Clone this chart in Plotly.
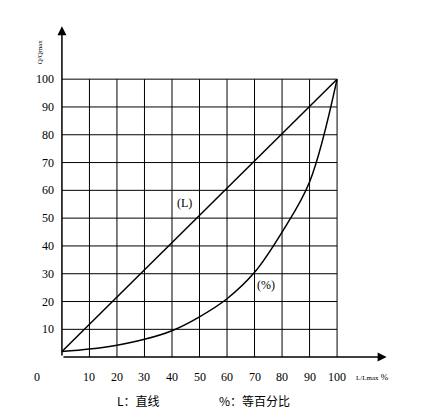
import plotly.graph_objects as go

x_vals = [0, 10, 20, 30, 40, 50, 60, 70, 80, 90, 100]
linear = [2, 11.8, 21.6, 31.4, 41.2, 51, 60.8, 70.6, 80.4, 90.2, 100]
equal_pct = [2, 2.9, 4.3, 6.4, 9.5, 14.5, 21, 30.5, 45, 63, 100]
ticks = [10, 20, 30, 40, 50, 60, 70, 80, 90, 100]

serif = "Liberation Serif"
cjk = "Noto Sans CJK SC"

fig = go.Figure()
fig.add_trace(go.Scatter(x=x_vals, y=linear, mode="lines", line=dict(color="black", width=1.5)))
fig.add_trace(go.Scatter(x=x_vals, y=equal_pct, mode="lines", line=dict(color="black", width=1.5, shape="spline")))

shapes = []
for t in ticks:
    shapes.append(dict(type="line", x0=t, x1=t, y0=0, y1=100, line=dict(color="black", width=1)))
    shapes.append(dict(type="line", x0=0, x1=100, y0=t, y1=t, line=dict(color="black", width=1)))
fig.update_layout(shapes=shapes)

ann = []
for t in ticks:
    ann.append(dict(x=-2, y=t, text=str(t), showarrow=False, xanchor="right",
                    font=dict(family=serif, size=12, color="black")))
    ann.append(dict(x=t, y=-7, text=str(t), showarrow=False,
                    font=dict(family=serif, size=12, color="black")))
ann.append(dict(x=-9, y=-7, text="0", showarrow=False, font=dict(family=serif, size=12, color="black")))
# axes with arrows
ann.append(dict(x=0, y=119, ax=0, ay=0, axref="x", ayref="y", showarrow=True,
                arrowhead=2, arrowsize=1.2, arrowwidth=1.5, arrowcolor="black", text=""))
ann.append(dict(x=118, y=0, ax=0, ay=0, axref="x", ayref="y", showarrow=True,
                arrowhead=2, arrowsize=1.2, arrowwidth=1.5, arrowcolor="black", text=""))
ann.append(dict(x=-8, y=110, text="Q/Qmax", textangle=-90, showarrow=False,
                font=dict(family=serif, size=7, color="black")))
ann.append(dict(x=106, y=-7, text="<span style='font-size:7px'>L/Lmax</span> %", showarrow=False,
                xanchor="left", font=dict(family=serif, size=9, color="black")))
ann.append(dict(x=44.7, y=55.4, text="(L)", showarrow=False, font=dict(family=serif, size=12, color="black")))
ann.append(dict(x=74, y=26, text="(%)", showarrow=False, font=dict(family=serif, size=12, color="black")))
ann.append(dict(x=28, y=-15.5, text="L：直线", showarrow=False, font=dict(family=cjk, size=12, color="black")))
ann.append(dict(x=70, y=-15.5, text="%：等百分比", showarrow=False, font=dict(family=cjk, size=12, color="black")))
fig.update_layout(annotations=ann)

fig.update_layout(
    width=424, height=415, margin=dict(l=0, r=0, t=0, b=0),
    paper_bgcolor="white", plot_bgcolor="white", showlegend=False,
    xaxis=dict(range=[-19.6, 134.5], visible=False, fixedrange=True),
    yaxis=dict(range=[-23.7, 125.6], visible=False, fixedrange=True),
)
fig.write_html("out.html")
